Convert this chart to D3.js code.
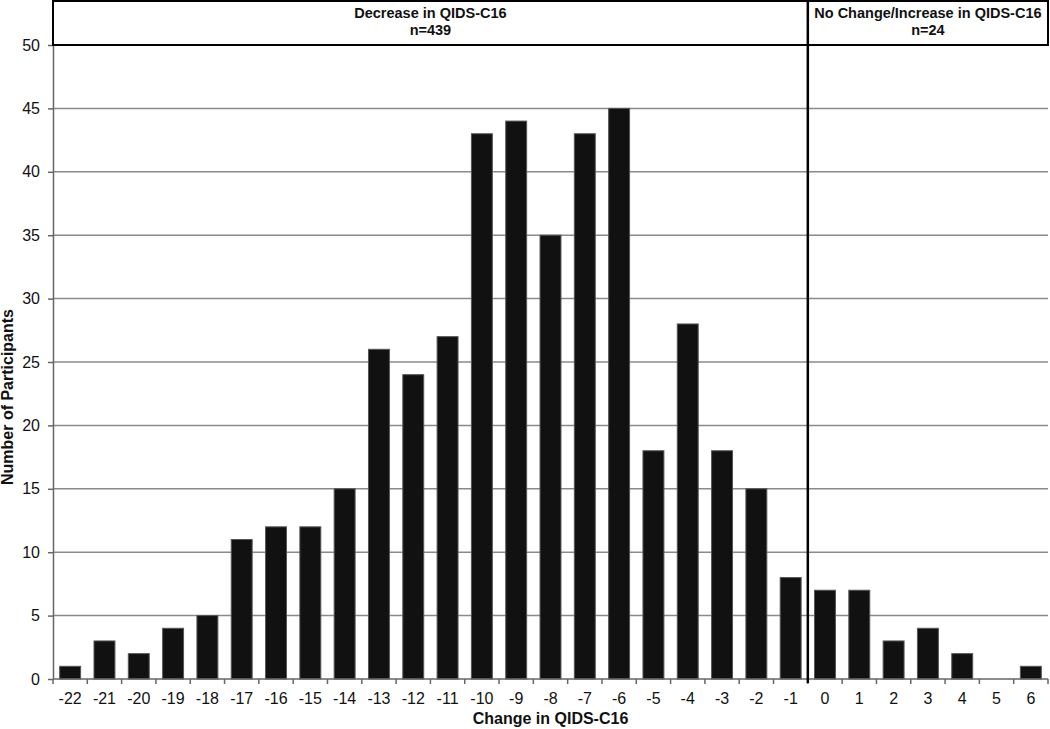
<!DOCTYPE html>
<html>
<head>
<meta charset="utf-8">
<script src="https://cdn.jsdelivr.net/npm/d3@7"></script>
<style>
  body { margin: 0; background: #fff; }
  svg text { font-family: "Liberation Sans", Arial, sans-serif; }
</style>
</head>
<body>
<svg id="drawing_region"></svg>
<script>
const changes = [-22, -21, -20, -19, -18, -17, -16, -15, -14, -13, -12, -11, -10, -9, -8, -7, -6, -5, -4, -3, -2, -1, 0, 1, 2, 3, 4, 5, 6];
const participants = [1, 3, 2, 4, 5, 11, 12, 12, 15, 26, 24, 27, 43, 44, 35, 43, 45, 18, 28, 18, 15, 8, 7, 7, 3, 4, 2, 0, 1];
const yTicks = [0, 5, 10, 15, 20, 25, 30, 35, 40, 45, 50];
const groups = [
  { label: 'Decrease in QIDS-C16', n: 'n=439', from: -22, to: -1 },
  { label: 'No Change/Increase in QIDS-C16', n: 'n=24', from: 0, to: 6 }
];

const width = 1050, height = 729;
const margin = { top: 45, right: 2, bottom: 50, left: 53 };

const svg = d3.select('#drawing_region')
  .attr('width', width)
  .attr('height', height);

const x = d3.scaleBand()
  .domain(changes)
  .range([margin.left, width - margin.right])
  .paddingInner(0.39)
  .paddingOuter(0.195);

const y = d3.scaleLinear()
  .domain([0, 50])
  .range([height - margin.bottom, margin.top]);

// gridlines
svg.append('g')
  .selectAll('line')
  .data(yTicks.filter(d => d > 0 && d < 50))
  .join('line')
  .attr('x1', margin.left)
  .attr('x2', width - margin.right)
  .attr('y1', d => y(d))
  .attr('y2', d => y(d))
  .attr('stroke', '#8a8a8a')
  .attr('stroke-width', 1.5);

// bars
svg.append('g')
  .selectAll('rect')
  .data(changes.map((c, i) => ({ c, v: participants[i] })))
  .join('rect')
  .attr('x', d => x(d.c))
  .attr('width', x.bandwidth())
  .attr('y', d => y(d.v))
  .attr('height', d => y(0) - y(d.v))
  .attr('fill', '#111')
  .attr('stroke', '#555')
  .attr('stroke-width', 1);

// y axis
const yAxis = svg.append('g')
  .attr('transform', `translate(${margin.left},0)`)
  .call(d3.axisLeft(y).tickValues(yTicks).tickSize(5).tickSizeOuter(0));
yAxis.select('.domain').attr('stroke', '#666').attr('stroke-width', 1.5);
yAxis.selectAll('.tick line').attr('stroke', '#666').attr('stroke-width', 1.5);
yAxis.selectAll('.tick text')
  .attr('font-size', 16)
  .attr('fill', '#111')
  .attr('x', -13);

// x axis (ticks at category boundaries)
const step = x.step();
const xAxis = svg.append('g')
  .attr('transform', `translate(0,${y(0)})`);
xAxis.append('line')
  .attr('x1', margin.left)
  .attr('x2', width - margin.right)
  .attr('stroke', '#666')
  .attr('stroke-width', 1.5);
xAxis.selectAll('.btick')
  .data(d3.range(changes.length + 1))
  .join('line')
  .attr('class', 'btick')
  .attr('x1', i => margin.left + i * step)
  .attr('x2', i => margin.left + i * step)
  .attr('y1', 0)
  .attr('y2', 5)
  .attr('stroke', '#666')
  .attr('stroke-width', 1.5);
xAxis.selectAll('.xlab')
  .data(changes)
  .join('text')
  .attr('class', 'xlab')
  .attr('x', d => x(d) + x.bandwidth() / 2)
  .attr('y', 25)
  .attr('text-anchor', 'middle')
  .attr('font-size', 16)
  .attr('fill', '#111')
  .text(d => d);

// header boxes
const boundary = x(0) - (step - x.bandwidth()) / 2;
svg.append('rect')
  .attr('x', margin.left)
  .attr('y', 1)
  .attr('width', width - margin.right - margin.left)
  .attr('height', margin.top - 1)
  .attr('fill', 'none')
  .attr('stroke', '#000')
  .attr('stroke-width', 2);

svg.append('line')
  .attr('x1', boundary)
  .attr('x2', boundary)
  .attr('y1', 0)
  .attr('y2', y(0) + 4)
  .attr('stroke', '#000')
  .attr('stroke-width', 2.5);

groups.forEach(g => {
  const x0 = g.from === changes[0] ? margin.left : boundary;
  const x1 = g.to === changes[changes.length - 1] ? width - margin.right : boundary;
  const cx = (x0 + x1) / 2;
  const t = svg.append('text')
    .attr('text-anchor', 'middle')
    .attr('font-size', 14.5)
    .attr('font-weight', 'bold')
    .attr('fill', '#111');
  t.append('tspan').attr('x', cx).attr('y', 18).text(g.label);
  t.append('tspan').attr('x', cx).attr('y', 35).text(g.n);
});

// axis titles
svg.append('text')
  .attr('x', (margin.left + width - margin.right) / 2)
  .attr('y', 724)
  .attr('text-anchor', 'middle')
  .attr('font-size', 16)
  .attr('font-weight', 'bold')
  .attr('fill', '#111')
  .text('Change in QIDS-C16');

svg.append('text')
  .attr('transform', `translate(13,${(margin.top + height - margin.bottom) / 2 + 35}) rotate(-90)`)
  .attr('text-anchor', 'middle')
  .attr('font-size', 16)
  .attr('font-weight', 'bold')
  .attr('fill', '#111')
  .text('Number of Participants');
</script>
</body>
</html>
